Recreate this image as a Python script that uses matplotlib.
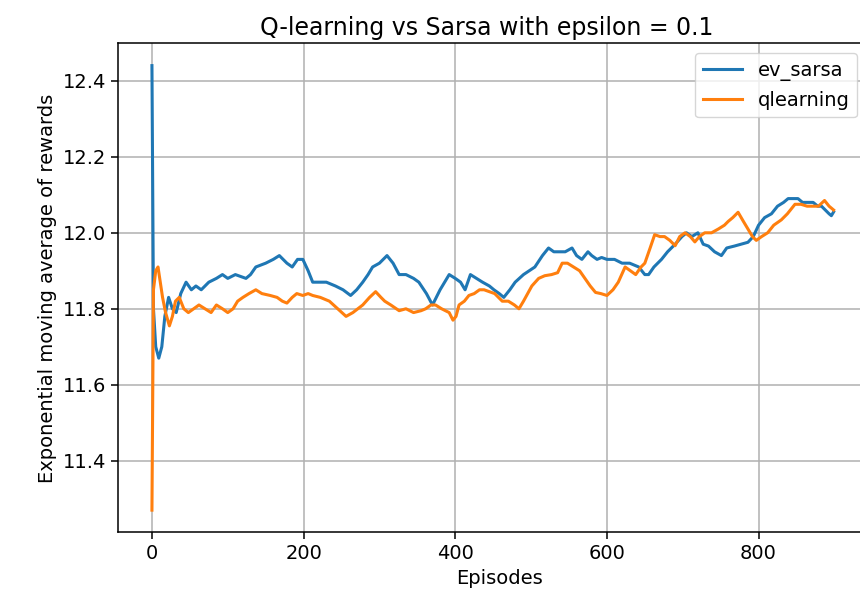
import numpy as np
import matplotlib
matplotlib.use("Agg")
import matplotlib.pyplot as plt

# values (episode, reward average)
sarsa_x = [0, 2, 5, 9, 13, 17, 22, 27, 32, 38, 45, 52, 58, 65, 75, 85, 93, 100,
           110, 124, 130, 137, 150, 160, 168, 178, 185, 192, 199, 206, 212, 222,
           230, 242, 252, 262, 270, 278, 285, 291, 300, 310, 318, 326, 335, 345,
           352, 362, 370, 380, 392, 400, 407, 413, 420, 428, 436, 445, 451, 458,
           464, 472, 479, 490, 505, 515, 523, 530, 536, 545, 554, 560, 567, 575,
           580, 587, 593, 600, 610, 620, 630, 642, 650, 655, 662, 672, 680, 690,
           699, 705, 712, 720, 727, 734, 742, 751, 758, 768, 777, 786, 793, 800,
           808, 817, 825, 833, 839, 846, 852, 858, 865, 872, 878, 883, 888, 893,
           896, 899]
sarsa_y = [12.44, 11.80, 11.70, 11.67, 11.70, 11.78, 11.83, 11.80, 11.79, 11.84,
           11.87, 11.85, 11.86, 11.85, 11.87, 11.88, 11.89, 11.88, 11.89, 11.88,
           11.89, 11.91, 11.92, 11.93, 11.94, 11.92, 11.91, 11.93, 11.93, 11.90,
           11.87, 11.87, 11.87, 11.86, 11.85, 11.835, 11.85, 11.87, 11.89, 11.91,
           11.92, 11.94, 11.92, 11.89, 11.89, 11.88, 11.87, 11.84, 11.81, 11.85,
           11.89, 11.88, 11.87, 11.85, 11.89, 11.88, 11.87, 11.86, 11.85, 11.84,
           11.83, 11.85, 11.87, 11.89, 11.91, 11.94, 11.96, 11.95, 11.95, 11.95,
           11.96, 11.94, 11.93, 11.95, 11.94, 11.93, 11.935, 11.93, 11.93, 11.92,
           11.92, 11.91, 11.89, 11.89, 11.91, 11.93, 11.95, 11.97, 11.99, 12.00,
           11.99, 12.00, 11.97, 11.965, 11.95, 11.94, 11.96, 11.965, 11.97, 11.975,
           11.99, 12.02, 12.04, 12.05, 12.07, 12.08, 12.09, 12.09, 12.09, 12.08,
           12.08, 12.08, 12.07, 12.07, 12.06, 12.05, 12.045, 12.055]

qlearn_x = [0, 2, 5, 8, 11, 14, 18, 23, 27, 31, 36, 42, 48, 55, 62, 70, 78, 85,
            93, 100, 107, 113, 120, 128, 137, 145, 156, 165, 172, 178, 185, 191,
            199, 206, 212, 222, 234, 245, 256, 265, 278, 287, 295, 302, 307, 315,
            326, 335, 345, 355, 361, 368, 374, 382, 392, 397, 401, 405, 412, 418,
            425, 432, 438, 445, 452, 462, 470, 478, 484, 490, 501, 510, 518, 527,
            535, 541, 548, 556, 564, 571, 578, 585, 592, 600, 608, 615, 624, 631,
            638, 645, 650, 657, 663, 670, 676, 683, 690, 696, 703, 710, 716, 722,
            729, 738, 747, 755, 760, 766, 773, 780, 786, 792, 797, 804, 812, 820,
            830, 838, 848, 856, 864, 872, 879, 887, 893, 899]
qlearn_y = [11.27, 11.85, 11.90, 11.91, 11.87, 11.83, 11.79, 11.755, 11.78, 11.82,
            11.83, 11.80, 11.79, 11.80, 11.81, 11.80, 11.79, 11.81, 11.80, 11.79,
            11.80, 11.82, 11.83, 11.84, 11.85, 11.84, 11.835, 11.83, 11.82, 11.815,
            11.83, 11.84, 11.835, 11.84, 11.835, 11.83, 11.82, 11.80, 11.78, 11.79,
            11.81, 11.83, 11.845, 11.83, 11.82, 11.81, 11.795, 11.80, 11.79, 11.795,
            11.80, 11.81, 11.81, 11.80, 11.79, 11.77, 11.78, 11.81, 11.82, 11.835,
            11.84, 11.85, 11.85, 11.845, 11.84, 11.82, 11.82, 11.81, 11.80, 11.82,
            11.86, 11.88, 11.887, 11.89, 11.895, 11.92, 11.92, 11.91, 11.90, 11.88,
            11.86, 11.843, 11.84, 11.835, 11.85, 11.87, 11.91, 11.90, 11.89, 11.91,
            11.92, 11.96, 11.995, 11.99, 11.99, 11.98, 11.966, 11.99, 12.00, 11.99,
            11.976, 11.99, 12.00, 12.00, 12.01, 12.02, 12.03, 12.04, 12.054, 12.03,
            12.01, 11.99, 11.98, 11.99, 12.00, 12.02, 12.034, 12.05, 12.075, 12.075,
            12.07, 12.07, 12.07, 12.085, 12.07, 12.06]

fig = plt.figure(figsize=(8.6, 6.06), dpi=100)
# the reference is cropped on the right, so the axes run past the figure edge
ax = fig.add_axes([0.137, 0.1215, 0.887, 0.8069])

ax.plot(sarsa_x, sarsa_y, label='ev_sarsa', color='#1f77b4', linewidth=2.2)
ax.plot(qlearn_x, qlearn_y, label='qlearning', color='#ff7f0e', linewidth=2.2)

ax.set_xlim(-45, 961)
ax.grid(color='#b0b0b0', linewidth=1.1)
ax.set_xticks([0, 200, 400, 600, 800])
ax.set_yticks([11.4, 11.6, 11.8, 12.0, 12.2, 12.4])
ax.tick_params(labelsize=14, width=1.1, length=5)
for s in ax.spines.values():
    s.set_linewidth(1.1)
ax.set_xlabel('Episodes', fontsize=14)
ax.set_ylabel('Exponential moving average of rewards', fontsize=14)
ax.set_title('Q-learning vs Sarsa with epsilon = 0.1', fontsize=17, x=0.484)
ax.legend(loc='upper right', bbox_to_anchor=(0.982, 1.0), fontsize=14)

fig.savefig('out.png', dpi=100)
